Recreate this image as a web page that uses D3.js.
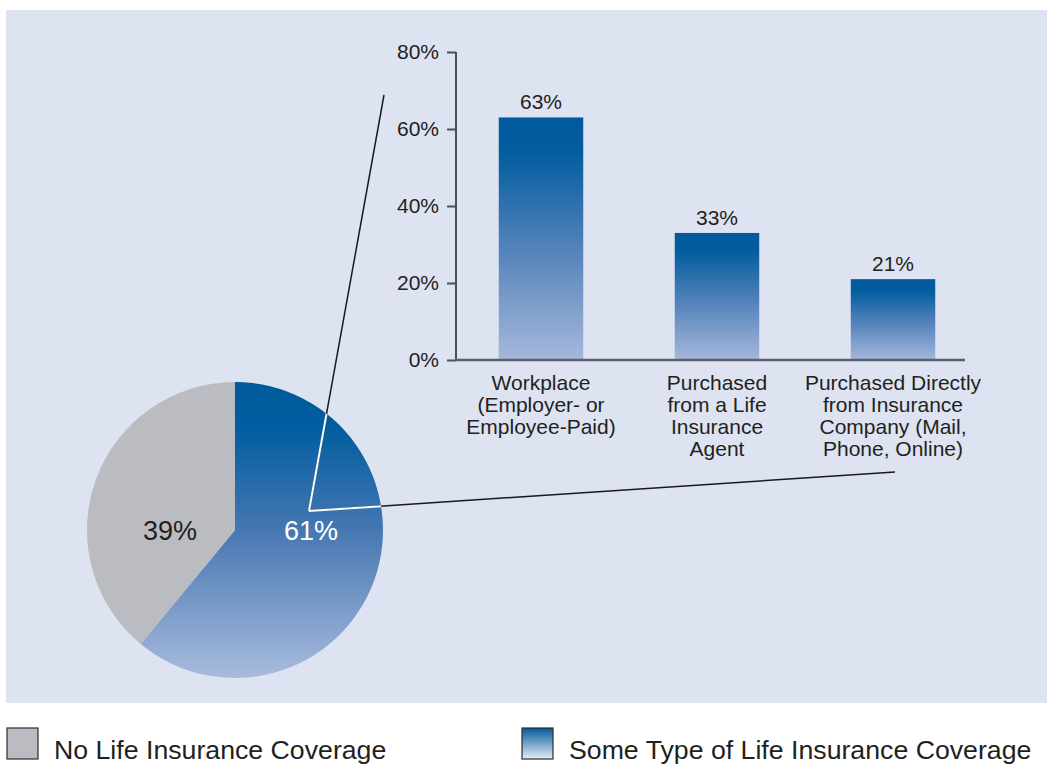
<!DOCTYPE html>
<html>
<head>
<meta charset="utf-8">
<script src="https://cdn.jsdelivr.net/npm/d3@7"></script>
<style>
  body { margin: 0; background: #fff; }
  svg { display: block; font-family: "Liberation Sans", Arial, Helvetica, sans-serif; }
</style>
</head>
<body>
<svg id="chart" width="1050" height="765"></svg>
<script>
// pie data
var pieLabels = ['Some Type of Life Insurance Coverage', 'No Life Insurance Coverage'];
var pieValues = [61, 39];

// bar data (breakdown of the 61%)
var barCategories = [
    ['Workplace', '(Employer- or', 'Employee-Paid)'],
    ['Purchased', 'from a Life', 'Insurance', 'Agent'],
    ['Purchased Directly', 'from Insurance', 'Company (Mail,', 'Phone, Online)']
];
var barValues = [63, 33, 21];
var yTicks = [0, 20, 40, 60, 80];

var textColor = '#231f20';
var svg = d3.select('#chart');
var defs = svg.append('defs');

// gradients
var barGrad = defs.append('linearGradient').attr('id', 'barGrad')
    .attr('x1', 0).attr('y1', 0).attr('x2', 0).attr('y2', 1);
barGrad.append('stop').attr('offset', '0').attr('stop-color', '#005a9c');
barGrad.append('stop').attr('offset', '0.15').attr('stop-color', '#035e9f');
barGrad.append('stop').attr('offset', '0.55').attr('stop-color', '#5583bb');
barGrad.append('stop').attr('offset', '1').attr('stop-color', '#a6b8db');

var pieR = 148;
var pieCx = 235, pieCy = 530;
var pieGrad = defs.append('linearGradient').attr('id', 'pieGrad')
    .attr('gradientUnits', 'userSpaceOnUse')
    .attr('x1', 0).attr('y1', -pieR).attr('x2', 0).attr('y2', pieR);
pieGrad.append('stop').attr('offset', '0').attr('stop-color', '#005a9c');
pieGrad.append('stop').attr('offset', '0.15').attr('stop-color', '#005d9f');
pieGrad.append('stop').attr('offset', '0.5').attr('stop-color', '#4677b2');
pieGrad.append('stop').attr('offset', '1').attr('stop-color', '#a9bbdd');

var legGrad = defs.append('linearGradient').attr('id', 'legGrad')
    .attr('x1', 0).attr('y1', 0).attr('x2', 0).attr('y2', 1);
legGrad.append('stop').attr('offset', '0').attr('stop-color', '#005a9c');
legGrad.append('stop').attr('offset', '1').attr('stop-color', '#e8ecf6');

defs.append('clipPath').attr('id', 'pieClip')
    .append('circle').attr('cx', pieCx).attr('cy', pieCy).attr('r', pieR);

// background panel
svg.append('rect').attr('x', 6).attr('y', 10).attr('width', 1041).attr('height', 693)
    .attr('fill', '#dde3f1');

// ---- bar chart ----
var axisX = 456;
var y = d3.scaleLinear().domain([0, 80]).range([360, 52]);
var x = d3.scaleBand().domain(d3.range(barValues.length)).range([453, 981])
    .paddingInner(0.52).paddingOuter(0.26);

var yAxis = svg.append('g').attr('transform', 'translate(' + axisX + ',0)')
    .call(d3.axisLeft(y).tickValues(yTicks).tickSize(9).tickPadding(8)
        .tickFormat((d) => d + '%'));
yAxis.select('.domain').attr('stroke', '#4d4f57').attr('stroke-width', 2).attr('d', 'M0,' + y(80) + 'V' + y(0));
yAxis.selectAll('.tick line').attr('stroke', '#4d4f57').attr('stroke-width', 2);
yAxis.selectAll('.tick text').attr('fill', textColor).style('font-size', '21px')
    .style('font-family', '"Liberation Sans", Arial, sans-serif');

var bars = svg.append('g').selectAll('rect').data(barValues).enter().append('rect')
    .attr('x', (d, i) => x(i))
    .attr('y', (d) => y(d))
    .attr('width', x.bandwidth())
    .attr('height', (d) => y(0) - y(d))
    .attr('fill', 'url(#barGrad)');

// baseline
svg.append('line').attr('x1', axisX - 1).attr('x2', 965).attr('y1', y(0)).attr('y2', y(0))
    .attr('stroke', '#5d606b').attr('stroke-width', 2.5);

svg.append('g').selectAll('text').data(barValues).enter().append('text')
    .attr('x', (d, i) => x(i) + x.bandwidth() / 2)
    .attr('y', (d) => y(d) - 8)
    .attr('text-anchor', 'middle')
    .attr('fill', textColor).style('font-size', '21px')
    .text((d) => d + '%');

var catLabels = svg.append('g').selectAll('text').data(barCategories).enter().append('text')
    .attr('x', (d, i) => x(i) + x.bandwidth() / 2)
    .attr('y', 390)
    .attr('text-anchor', 'middle')
    .attr('fill', textColor).style('font-size', '21px');
catLabels.selectAll('tspan').data((d) => d).enter().append('tspan')
    .attr('x', function() { return d3.select(this.parentNode).attr('x'); })
    .attr('dy', (d, i) => i === 0 ? 0 : 22)
    .text((d) => d);

// ---- pie ----
var pie = d3.pie().sort(null)(pieValues);
var arc = d3.arc().innerRadius(0).outerRadius(pieR);
var pieColors = ['url(#pieGrad)', '#bbbcc1'];
var pieG = svg.append('g').attr('transform', 'translate(' + pieCx + ',' + pieCy + ')');
pieG.selectAll('path').data(pie).enter().append('path')
    .attr('d', arc)
    .attr('fill', (d, i) => pieColors[i]);

// pie labels
var labelPos = [[76, 0], [-65, 0]];
pieG.selectAll('text').data(pie).enter().append('text')
    .attr('x', (d, i) => labelPos[i][0])
    .attr('y', (d, i) => labelPos[i][1])
    .attr('dy', '0.36em')
    .attr('text-anchor', 'middle')
    .attr('fill', (d, i) => i === 0 ? '#ffffff' : textColor)
    .style('font-size', '27px')
    .text((d) => d.value + '%');

// connector lines from pie to bar chart
var vertex = [309, 511];
var ends = [[384, 95], [895, 472]];
svg.append('g').selectAll('line').data(ends).enter().append('line')
    .attr('x1', vertex[0]).attr('y1', vertex[1])
    .attr('x2', (d) => d[0]).attr('y2', (d) => d[1])
    .attr('stroke', '#1a1a1a').attr('stroke-width', 1.5);
svg.append('g').attr('clip-path', 'url(#pieClip)').selectAll('line').data(ends).enter().append('line')
    .attr('x1', vertex[0]).attr('y1', vertex[1])
    .attr('x2', (d) => d[0]).attr('y2', (d) => d[1])
    .attr('stroke', '#ffffff').attr('stroke-width', 2);

// ---- legend ----
var legendX = [7, 522];
var legendFill = ['#bbbcc1', 'url(#legGrad)'];
var legendText = [pieLabels[1], pieLabels[0]];
var leg = svg.append('g').selectAll('g').data(legendText).enter().append('g')
    .attr('transform', (d, i) => 'translate(' + legendX[i] + ',728)');
leg.append('rect').attr('width', 31).attr('height', 31)
    .attr('fill', (d, i) => legendFill[i])
    .attr('stroke', '#2b2b2b').attr('stroke-width', 1.2);
leg.append('text').attr('x', 47).attr('y', 31)
    .attr('fill', textColor).style('font-size', '26.7px')
    .text((d) => d);
</script>
</body>
</html>
